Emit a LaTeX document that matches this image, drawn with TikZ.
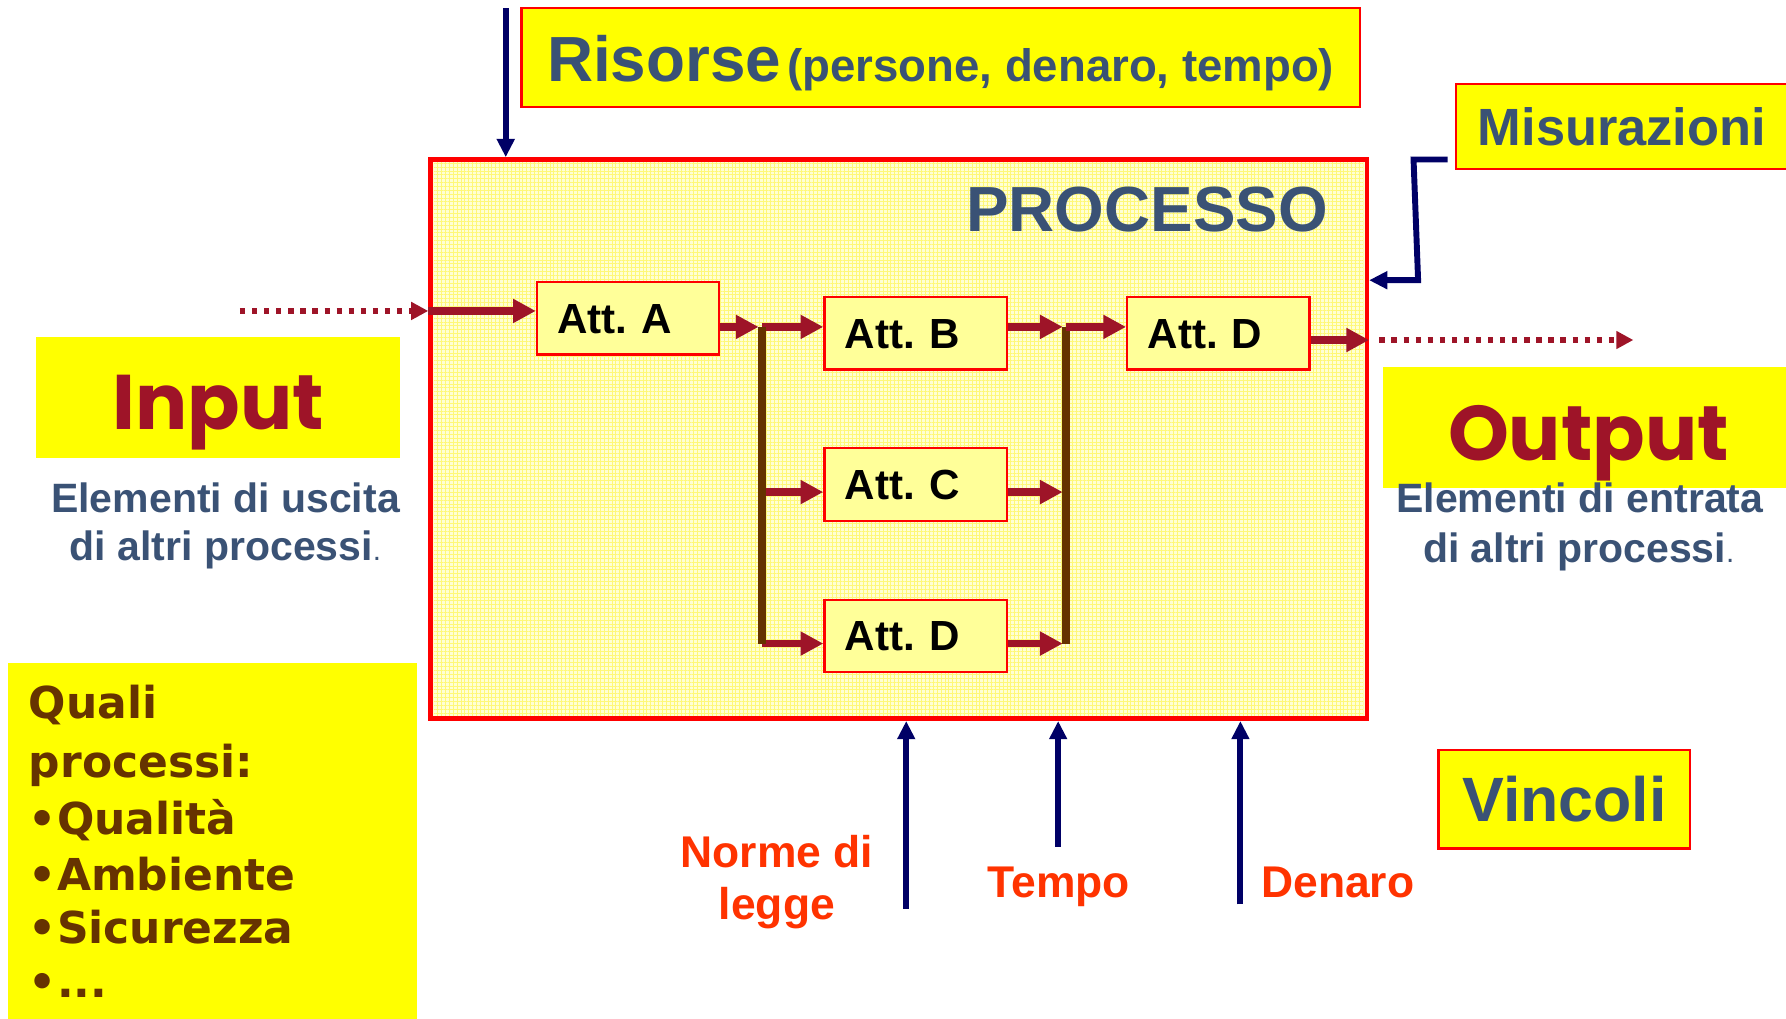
\documentclass[tikz,border=0pt]{standalone}
\usepackage{fontspec}
\setmainfont{Liberation Sans}
\newfontfamily\geofont{Poppins}
\newfontfamily\heavyfont{DejaVu Sans}
\usetikzlibrary{arrows.meta,patterns.meta}
\definecolor{slate}{RGB}{58,82,117}
\definecolor{dred}{RGB}{158,20,40}
\definecolor{brownc}{RGB}{102,51,0}
\definecolor{navyc}{RGB}{0,0,102}
\definecolor{orng}{RGB}{255,51,0}
\definecolor{yel}{RGB}{255,255,0}
\definecolor{attfill}{RGB}{255,255,153}
\definecolor{procfill}{RGB}{255,255,212}
\definecolor{gridc}{RGB}{255,248,120}
\definecolor{redb}{RGB}{255,0,0}
\newcommand{\fsz}[1]{\fontsize{#1}{#1}\selectfont}
\begin{document}
\frenchspacing
\begin{tikzpicture}[x=0.5pt,y=-0.5pt,
  ybox/.style={draw=redb,line width=1pt,fill=yel,inner xsep=0pt,inner ysep=0pt,text depth=0pt},
  plainy/.style={fill=yel,inner sep=0pt,text depth=0pt},
  attbox/.style={draw=redb,line width=1pt,fill=attfill,anchor=north west,
    minimum width=80pt,minimum height=31.8pt,text width=62pt,inner xsep=9pt,inner ysep=0pt,
    align=left,text height=13.2pt,text depth=0pt,font=\fsz{18.5pt}\bfseries},
  redarrow/.style={draw=dred,line width=3.2pt,-{Triangle[length=10pt,width=10pt]}},
  dotarrow/.style={draw=dred,line width=2.5pt,dash pattern=on 2.3pt off 3pt,-{Triangle[length=7.5pt,width=7.5pt]}},
  barline/.style={draw=brownc,line width=3.6pt},
  navyarrow/.style={draw=navyc,line width=2.6pt,-{Triangle[length=8pt,width=7.5pt]}},
  slatetext/.style={text=slate,font=\fsz{18pt}\bfseries,anchor=base,inner sep=0pt},
  constr/.style={text=orng,font=\fsz{19.5pt}\bfseries,anchor=base,inner sep=0pt},
  quali/.style={text=brownc,font=\heavyfont\bfseries\fsz{19.3pt},anchor=base west,inner sep=0pt}
]
\useasboundingbox (0,0) rectangle (1568,894.6);

% ---- process box ----
\node[draw=redb,line width=2pt,fill=procfill,minimum width=411pt,minimum height=245.5pt,inner sep=0pt]
  (proc) at (789,385.5) {};
\fill[pattern={Hatch[distance=1.7pt,line width=0.3pt]},pattern color=gridc] (381,143) rectangle (1197,628);
\node[text=slate,font=\fsz{28pt}\bfseries,anchor=base,inner sep=0pt] (proctitle) at (1007,203.5) {PROCESSO};

% ---- label boxes ----
\node[ybox,minimum width=368pt,minimum height=43.2pt,text height=21.2pt,text=slate] (ris) at (825.8,50.5)
  {{\fsz{28pt}\bfseries Risorse} {\fsz{20pt}\bfseries (persone, denaro, tempo)}};
\node[ybox,anchor=west,minimum width=151.25pt,minimum height=37.35pt,text width=132.25pt,inner xsep=9.5pt,
  align=left,text height=16.4pt,text=slate,font=\fsz{23pt}\bfseries] (mis) at (1277.5,111) {Misurazioni};
\node[plainy,minimum width=159.5pt,minimum height=53pt,text height=28.5pt,text=dred,font=\geofont\bfseries\fsz{34pt}]
  (inp) at (191.5,349) {Input};
\node[plainy,minimum width=180.5pt,minimum height=53.3pt,text height=28.7pt,text=dred,font=\geofont\bfseries\fsz{34pt}]
  (outp) at (1394.5,375.3) {Output};
\node[ybox,minimum width=110.5pt,minimum height=43.25pt,text height=19.85pt,text=slate,font=\fsz{27.5pt}\bfseries]
  (vinc) at (1373.5,701.75) {Vincoli};
\node[fill=yel,inner sep=0pt,anchor=north west,minimum width=179.5pt,minimum height=160pt] (qbox) at (7,582) {};

% ---- side texts ----
\node[slatetext] (in1) at (198,450) {Elementi di uscita};
\node[slatetext] (in2) at (198,492.5) {di altri processi{\mdseries\fsz{13pt}.}};
\node[slatetext] (out1) at (1387,450) {Elementi di entrata};
\node[slatetext] (out2) at (1386,493.5) {di altri processi{\mdseries\fsz{13pt}.}};

\node[quali] (q1) at (25,630.6) {Quali};
\node[quali] (q2) at (25,683) {processi:};
\node[quali] (q3) at (25,733) {•Qualità};
\node[quali] (q4) at (25,781.5) {•Ambiente};
\node[quali] (q5) at (25,828) {•Sicurezza};
\node[quali] (q6) at (25,876) {•...};

\node[constr] (norme1) at (682,762) {Norme di};
\node[constr] (norme2) at (682,807) {legge};
\node[constr] (tempo) at (929.5,788) {Tempo};
\node[constr] (denaro) at (1174.5,788) {Denaro};

% ---- activities ----
\node[attbox] (A) at (470.4,246.6) {Att. A};
\node[attbox] (B) at (722.8,259.8) {Att. B};
\node[attbox] (C) at (722.8,392.6) {Att. C};
\node[attbox] (Dl) at (722.8,525.5) {Att. D};
\node[attbox] (Du) at (988.6,259.8) {Att. D};

% ---- flow coordinates ----
\coordinate (inStart) at (210.7,273);
\coordinate (L1top) at (669,287);
\coordinate (L1c) at (669,432);
\coordinate (L1bot) at (669,565);
\coordinate (R1top) at (936,287);
\coordinate (R1c) at (936,432);
\coordinate (R1bot) at (936,565);
\coordinate (outY) at (1200,298.5);
\coordinate (outEnd) at (1434,298.5);

% input
\draw[dotarrow] (inStart) -- (proc.west |- inStart);
\draw[redarrow] (proc.west |- inStart) -- (A.west |- inStart);
% A to split
\draw[redarrow] (A.east |- L1top) -- ([xshift=-1.5pt]L1top);
\draw[redarrow] (L1top) -- (B.west |- L1top);
\draw[redarrow] (L1c) -- (C.west |- L1c);
\draw[redarrow] (L1bot) -- (Dl.west |- L1bot);
\draw[barline] (L1top) -- (L1bot);
% join
\draw[redarrow] (B.east |- R1top) -- ([xshift=-1.5pt]R1top);
\draw[redarrow] (C.east |- R1c) -- ([xshift=-1.5pt]R1c);
\draw[redarrow] (Dl.east |- R1bot) -- ([xshift=-1.5pt]R1bot);
\draw[barline] (R1top) -- (R1bot);
\draw[redarrow] (R1top) -- (Du.west |- R1top);
% output
\draw[redarrow] (Du.east |- outY) -- (proc.east |- outY);
\draw[dotarrow] ([xshift=4.5pt]proc.east |- outEnd) -- (outEnd);

% resources
\coordinate (resTop) at (444,7.3);
\draw[navyarrow] (resTop) -- (proc.north -| resTop);
% measurements
\coordinate (m1) at (1271,140);
\coordinate (m2) at (1241,140);
\coordinate (m3) at (1245,246);
\draw[navyarrow,line join=miter] (m1) -- (m2) -- (m3) -- (proc.east |- m3);
% constraints
\coordinate (n1) at (795.6,798);
\coordinate (t1) at (929,743.6);
\coordinate (d1) at (1089,794);
\draw[navyarrow] (n1) -- (proc.south -| n1);
\draw[navyarrow] (t1) -- (proc.south -| t1);
\draw[navyarrow] (d1) -- (proc.south -| d1);
\end{tikzpicture}
\end{document}
